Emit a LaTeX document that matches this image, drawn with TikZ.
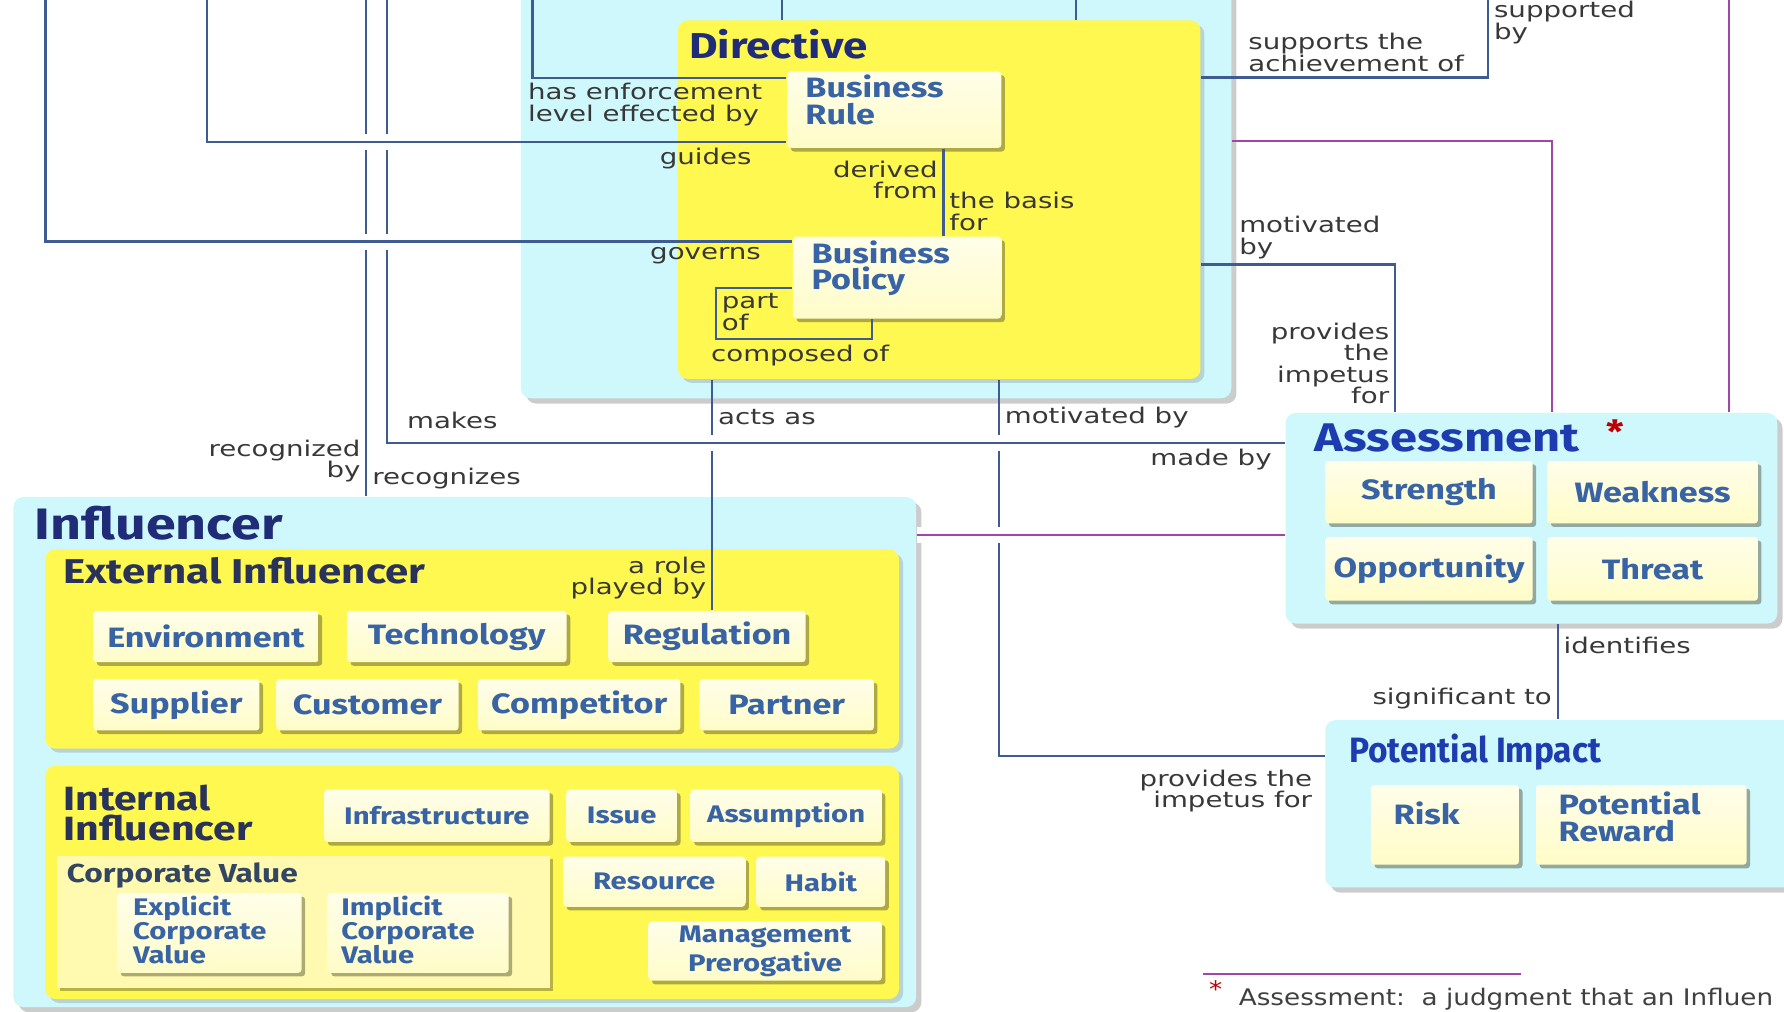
\documentclass[tikz,border=0pt]{standalone}
\usepackage{fontspec}
\usepackage{graphicx}
\setmainfont{DejaVu Sans}[FakeStretch=1.28]
\newfontfamily\boxfont{Fira Sans}[FakeStretch=1.22]
\newfontfamily\notefont{DejaVu Sans}[FakeStretch=1.15]
\usetikzlibrary{calc,shadows}

\definecolor{skyfill}{RGB}{206,248,252}
\definecolor{sunfill}{RGB}{255,248,80}
\definecolor{creamfill}{RGB}{255,252,200}
\definecolor{cvfill}{RGB}{255,250,175}
\definecolor{navytext}{RGB}{32,44,120}
\definecolor{brighttext}{RGB}{30,60,175}
\definecolor{extext}{RGB}{40,50,90}
\definecolor{cvtext}{RGB}{50,70,100}
\definecolor{itemtext}{RGB}{56,100,165}
\definecolor{linkblue}{RGB}{62,92,145}
\definecolor{linkpink}{RGB}{160,70,170}

\begin{document}
\begin{tikzpicture}[x=0.01cm, y=-0.01cm,
  skybox/.style={rectangle, rounded corners=2.5pt, fill=skyfill, inner sep=0pt,
    drop shadow={shadow xshift=1.3pt, shadow yshift=-1.3pt, opacity=0.4}},
  sunbox/.style={rectangle, rounded corners=2.5pt, fill=sunfill, inner sep=0pt,
    drop shadow={shadow xshift=1pt, shadow yshift=-1pt, opacity=0.3}},
  item/.style={rectangle, rounded corners=0.8pt, top color=white!60!creamfill, bottom color=creamfill, inner sep=0pt,
    drop shadow={shadow xshift=0.9pt, shadow yshift=-0.9pt, opacity=0.45, fill=black!60!olive},
    text=itemtext, font=\boxfont\bfseries\fontsize{7}{6.6}\selectfont},
  smallitem/.style={item, font=\boxfont\bfseries\fontsize{6}{6}\selectfont},
  cvbox/.style={rectangle, fill=cvfill, inner sep=0pt,
    drop shadow={shadow xshift=0.9pt, shadow yshift=-0.9pt, opacity=0.4, fill=black!60!olive}},
  title/.style={anchor=base west, inner sep=0pt, text=navytext, font=\boxfont\bfseries\fontsize{9}{10}\selectfont},
  lbl/.style={inner sep=1.2pt, text=black!78, font=\fontsize{5.4}{5.4}\selectfont},
  link/.style={draw=linkblue, line width=0.55pt},
  pinklink/.style={draw=linkpink, line width=0.55pt},
  halo/.style={preaction={draw=white, line width=4pt, #1}},
  halo/.default={}]

\useasboundingbox (0,0) rectangle (1568,889);
\clip (0,0) rectangle (1568,889);

% directive
\node[skybox, minimum width=6.24cm, minimum height=3.9cm] (dirC) at (770,155) {};
\node[sunbox, minimum width=4.59cm, minimum height=3.15cm] (dirY) at (825.5,175.5) {};
\node[title] (dirT) at (605,51) {Directive};
\node[item, minimum width=1.88cm, minimum height=0.67cm, text width=1.56cm, align=left, text depth=11.7pt] (rule) at (786,96.5) {Business\\Rule};
\node[item, minimum width=1.83cm, minimum height=0.72cm, text width=1.5cm, align=left, text depth=12.8pt] (policy) at (788.5,244) {Business\\Policy};

% influencer
\node[skybox, minimum width=7.93cm, minimum height=4.48cm] (infl) at (408.5,661) {};
\node[title, font=\boxfont\bfseries\fontsize{11}{12}\selectfont] (inflT) at (30,474) {Influencer};
\node[sunbox, minimum width=7.5cm, minimum height=1.75cm] (ext) at (415,570.5) {};
\node[title, text=extext, font=\boxfont\bfseries\fontsize{8.6}{9}\selectfont] (extT) at (55,513) {External Influencer};
\node[item, minimum width=1.98cm, minimum height=0.45cm] (env) at (181,559.5) {Environment};
\node[item, minimum width=1.93cm, minimum height=0.45cm] (tech) at (401.5,559.5) {Technology};
\node[item, minimum width=1.73cm, minimum height=0.45cm] (reg) at (621.5,559.5) {Regulation};
\node[item, minimum width=1.46cm, minimum height=0.45cm] (supp) at (155,619.5) {Supplier};
\node[item, minimum width=1.6cm, minimum height=0.45cm] (cust) at (323,619.5) {Customer};
\node[item, minimum width=1.78cm, minimum height=0.45cm] (comp) at (509,619.5) {Competitor};
\node[item, minimum width=1.53cm, minimum height=0.45cm] (partner) at (691.5,619.5) {Partner};

\node[sunbox, minimum width=7.5cm, minimum height=2.05cm] (int) at (415,775.5) {};
\node[title, text=extext, align=left, anchor=north west, font=\boxfont\bfseries\fontsize{8.4}{7.6}\selectfont] (intT) at (55,689) {Internal\\Influencer};
\node[smallitem, minimum width=1.98cm, minimum height=0.46cm] (infra) at (384,717) {Infrastructure};
\node[smallitem, minimum width=0.97cm, minimum height=0.46cm] (issue) at (546.5,717) {Issue};
\node[smallitem, minimum width=1.68cm, minimum height=0.46cm] (assum) at (691,717) {Assumption};
\node[cvbox, minimum width=4.33cm, minimum height=1.16cm] (corp) at (266.5,810) {};
\node[anchor=base west, inner sep=0pt, text=cvtext, font=\boxfont\bfseries\fontsize{6.5}{6.5}\selectfont] (corpT) at (58,776) {Corporate Value};
\node[smallitem, minimum width=1.62cm, minimum height=0.7cm, text width=1.34cm, align=left, text depth=13.7pt] (expl) at (184,820) {Explicit\\Corporate\\Value};
\node[smallitem, minimum width=1.59cm, minimum height=0.7cm, text width=1.35cm, align=left, text depth=13.7pt] (impl) at (367.5,820) {Implicit\\Corporate\\Value};
\node[smallitem, minimum width=1.6cm, minimum height=0.44cm] (res) at (575,775) {Resource};
\node[smallitem, minimum width=1.13cm, minimum height=0.44cm] (habit) at (721.5,775) {Habit};
\node[smallitem, minimum width=2.05cm, minimum height=0.52cm, align=center] (mgmt) at (672.5,836) {Management\\Prerogative};

% assessment
\node[skybox, minimum width=4.32cm, minimum height=1.85cm] (assess) at (1346,455.5) {};
\node[title, text=brighttext, font=\boxfont\bfseries\fontsize{10}{11}\selectfont] (assessT) at (1155,397) {Assessment};
\node[anchor=base west, inner sep=0pt, text=red!75!black, font=\boxfont\bfseries\fontsize{8}{8}\selectfont] (star) at (1411,390) {*};
\node[item, minimum width=1.82cm, minimum height=0.55cm] (strength) at (1256,432.5) {Strength};
\node[item, minimum width=1.85cm, minimum height=0.55cm] (weak) at (1452.5,432.5) {Weakness};
\node[item, minimum width=1.82cm, minimum height=0.56cm] (opp) at (1256,500) {Opportunity};
\node[item, minimum width=1.85cm, minimum height=0.56cm] (threat) at (1452.5,500) {Threat};

% potential impact
\node[skybox, minimum width=4.35cm, minimum height=1.47cm] (impact) at (1382.5,706.5) {};
\node[title, text=brighttext, font=\boxfont\bfseries\fontsize{8.8}{9}\selectfont] (impactT) at (1185,670) {\scalebox{0.78}[1]{Potential Impact}};
\node[item, minimum width=1.3cm, minimum height=0.7cm, text width=0.9cm, align=left, text depth=6pt] (risk) at (1270,725) {Risk};
\node[item, minimum width=1.85cm, minimum height=0.7cm, text width=1.45cm, align=left, text depth=10.8pt] (reward) at (1442.5,725) {Potential\\Reward};

% free ends at the top edge
\coordinate (govtop) at (40,-5);
\coordinate (guidetop) at (182,-5);
\coordinate (recogtop) at (322,-5);
\coordinate (maketop) at (340,-5);
\coordinate (enftop) at (468,-5);
\coordinate (srctop) at (687,-5);
\coordinate (midtop) at (946,-5);
\coordinate (suptop) at (1308,-5);
\coordinate (pinktop) at (1520,-5);
\coordinate (actsA) at ($(dirY.south)+(-199.5,0)$);
\coordinate (motA) at ($(dirY.south)+(52.5,0)$);
\coordinate (identA) at ($(assess.south west)+(240,0)$);
\coordinate (deriveA) at ($(rule.south west)+(138,0)$);
\coordinate (pinkA) at ($(infl.north east)+(0,34)$);

% connectors
\draw[link] (recogtop) -- node[lbl, pos=0.93, left, align=right]{recognized\\by} node[lbl, pos=0.965, right]{recognizes} (recogtop |- infl.north);
\draw[link] (actsA) -- node[lbl, pos=0.16, right]{acts as} node[lbl, pos=0.86, left, align=right]{a role\\played by} (actsA |- reg.north);
\draw[link] (motA) |- node[lbl, pos=0.05, right]{motivated by} node[lbl, pos=0.99, below left, yshift=-2pt, align=right]{provides the\\impetus for} ($(impact.north west)+(0,32)$);
\draw[link] (identA) -- node[lbl, pos=0.22, right]{identifies} node[lbl, pos=0.78, left]{significant to} (identA |- impact.north);
\draw[link] (deriveA) -- node[lbl, pos=0.36, left, align=right]{derived\\from} node[lbl, pos=0.72, right, align=left]{the basis\\for} (deriveA |- policy.north);
\draw[link] ($(policy.south west)+(70,0)$) |- node[lbl, pos=0.73, below]{composed of} ++(-137,17) |- node[lbl, pos=0.5, below right, align=left]{part\\of} ($(policy.west)+(0,9)$);
\draw[link] (enftop) |- node[lbl, pos=0.964, below left, align=left]{has enforcement\\level effected by} ($(rule.north west)+(0,6)$);
\draw[link] (srctop) -- (srctop |- dirY.north);
\draw[link] (midtop) -- (midtop |- dirY.north);
\draw[link] ($(dirY.north east)+(0,51)$) -| node[lbl, pos=0.27, above, align=left]{supports the\\achievement of} node[lbl, pos=0.83, right, align=left]{supported\\by} (suptop);
\draw[link] ($(dirY.east)+(0,57)$) -| node[lbl, pos=0.28, above, align=left]{motivated\\by} node[lbl, pos=0.835, left, align=right]{provides\\the\\impetus\\for} ($(assess.north west)+(97,0)$);
\draw[pinklink] ($(dirC.east)+(0,-31)$) -| ($(assess.north west)+(235,0)$);
\draw[pinklink] (pinktop) -- (pinktop |- assess.north);
\draw[link, halo] (maketop) |- node[lbl, pos=0.508, above right, yshift=2pt]{makes} node[lbl, pos=0.996, below left]{made by} ($(assess.north west)+(0,27)$);
\draw[pinklink, halo] (pinkA) -- (pinkA -| assess.west);
\draw[link, halo={shorten >=2.7cm}] (govtop) |- node[lbl, pos=0.983, below left]{governs} ($(policy.north west)+(0,5)$);
\draw[link, halo={shorten >=2.72cm}] (guidetop) |- node[lbl, pos=0.975, below left]{guides} ($(rule.south west)+(0,-6)$);

% footnote
\coordinate (noteA) at (1057,856);
\coordinate (noteB) at (1337,856);
\draw[pinklink] (noteA) -- (noteB);
\node[anchor=base west, inner sep=0pt, text=black!75, font=\notefont\fontsize{5.7}{6}\selectfont] (note) at (1062,884) {\textcolor{red!75!black}{\raisebox{2pt}{*}}\ \ Assessment:\ \ a judgment that an Influen};
\end{tikzpicture}
\end{document}
